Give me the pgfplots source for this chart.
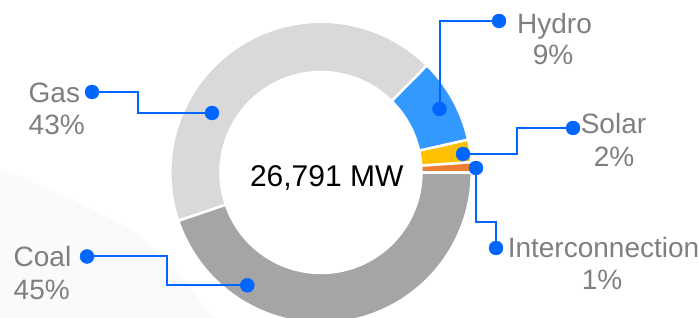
\documentclass[border=0pt]{standalone}
\usepackage{fontspec}
\setmainfont{Liberation Sans}
\usepackage{pgfplots}
\usepackage{pgfplotstable}
\pgfplotsset{compat=1.18}

\definecolor{cint}{HTML}{ED7D31}
\definecolor{csol}{HTML}{FFC000}
\definecolor{chyd}{HTML}{3399FF}
\definecolor{cgas}{HTML}{D9D9D9}
\definecolor{ccoal}{HTML}{A5A5A5}
\definecolor{lead}{HTML}{0066FF}
\definecolor{lbl}{HTML}{7F7F7F}
\definecolor{bgg}{HTML}{FAFAFA}

% Capacity mix in MW (total 26,791 MW), drawn counterclockwise from 3 o'clock
\pgfplotstableread{
name value col
Interconnection 295 cint
Solar 643 csol
Hydro 2438 chyd
Gas 11413 cgas
Coal 12002 ccoal
}\mixtable

\newcommand\lblfont{\fontsize{28}{32}\selectfont}

\begin{document}
\begin{tikzpicture}
\begin{axis}[
  name=ax,
  width=699pt, height=318pt, scale only axis,
  xmin=0, xmax=699, ymin=0, ymax=318,
  hide axis, clip=false,
]
% faint background swoosh
\addplot[fill=bgg, draw=none] coordinates {(0,0) (0,150) (67,121) (133,88) (180,43) (213,0)} -- cycle;

% donut sectors (total 26791 MW -> 267.91 MW per percent, 3.6 degrees per percent)
\def\cum{0}
\pgfplotsforeachungrouped \i in {0,...,4}{%
  \pgfplotstablegetelem{\i}{value}\of\mixtable
  \pgfmathsetmacro\b{\cum+\pgfplotsretval/267.91*3.6}%
  \pgfplotstablegetelem{\i}{col}\of\mixtable
  \let\col\pgfplotsretval
  \edef\temp{\noexpand\addplot[fill=\col, draw=white, line width=2.5pt, line join=miter, domain=\cum:\b, samples=90] ({321+150.75*cos(x)}, {145.5+150.75*sin(x)}) -- (axis cs:321,145.5) -- cycle;}%
  \temp
  \global\let\cum\b
}
% hole
\addplot[fill=white, draw=none, domain=0:360, samples=180] ({321+101.7*cos(x)}, {145.5+101.7*sin(x)}) -- cycle;

% leader lines
\addplot[lead, line width=2pt, mark=none] coordinates {(499,297) (439.5,297) (439.5,209)};
\addplot[lead, only marks, mark=*, mark size=7pt] coordinates {(499,297) (439.5,209)};

\addplot[lead, line width=2pt, mark=none] coordinates {(573,190) (517,190) (517,164) (463,164)};
\addplot[lead, only marks, mark=*, mark size=7pt] coordinates {(573,190) (463,164)};

\addplot[lead, line width=2pt, mark=none] coordinates {(496,70) (496,96) (476,96) (476,150)};
\addplot[lead, only marks, mark=*, mark size=7pt] coordinates {(496,70) (476,150)};

\addplot[lead, line width=2pt, mark=none] coordinates {(92,226) (138,226) (138,205) (212,205)};
\addplot[lead, only marks, mark=*, mark size=7pt] coordinates {(92,226) (212,205)};

\addplot[lead, line width=2pt, mark=none] coordinates {(87,61.5) (166.7,61.5) (166.7,32.7) (247.3,32.7)};
\addplot[lead, only marks, mark=*, mark size=7pt] coordinates {(87,61.5) (247.3,32.7)};

% center text
\node[anchor=base, font=\fontsize{30}{36}\selectfont, text=black] at (axis cs:326.7,131.3) {26,791 MW};

% labels
\node[anchor=base, font=\lblfont, text=lbl] at (axis cs:554.5,284.7) {Hydro};
\node[anchor=base, font=\lblfont, text=lbl] at (axis cs:553,253) {9\%};
\node[anchor=base, font=\lblfont, text=lbl] at (axis cs:613.5,184.5) {Solar};
\node[anchor=base, font=\lblfont, text=lbl] at (axis cs:614,151.3) {2\%};
\node[anchor=base, font=\lblfont, text=lbl] at (axis cs:603.5,60.5) {Interconnection};
\node[anchor=base, font=\lblfont, text=lbl] at (axis cs:602,28) {1\%};
\node[anchor=base west, font=\lblfont, text=lbl, inner sep=0pt] at (axis cs:28.5,215.3) {Gas};
\node[anchor=base west, font=\lblfont, text=lbl, inner sep=0pt] at (axis cs:28.5,183) {43\%};
\node[anchor=base west, font=\lblfont, text=lbl, inner sep=0pt] at (axis cs:13.5,51) {Coal};
\node[anchor=base west, font=\lblfont, text=lbl, inner sep=0pt] at (axis cs:13.5,18.5) {45\%};
\end{axis}
\pgfresetboundingbox
\path (ax.south west) rectangle (ax.north east);
\end{tikzpicture}
\end{document}
